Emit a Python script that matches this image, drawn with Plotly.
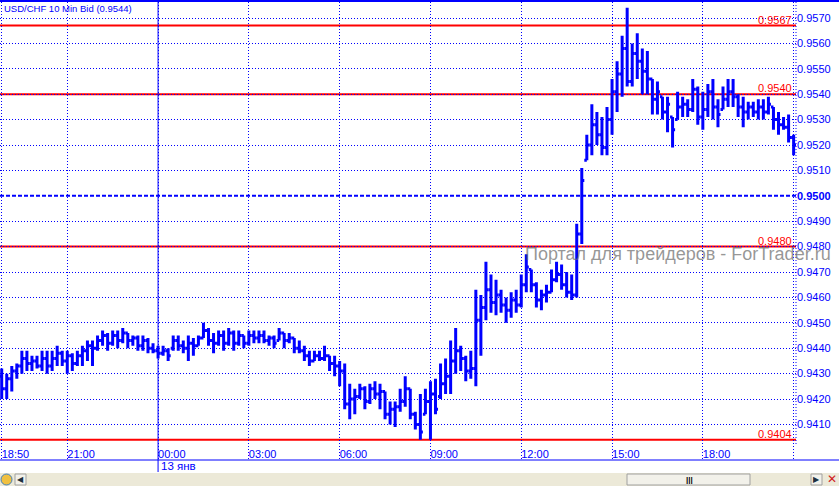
import pandas as pd
import plotly.graph_objects as go

# ---------------- data ----------------
start_time = "2012-01-12 18:50"
n_bars = 158
bar_minutes = 10

high = [0.9432, 0.9430, 0.9433, 0.9434, 0.9439, 0.9439, 0.9437, 0.9437, 0.9439, 0.9439,
        0.9439, 0.9441, 0.9439, 0.9439, 0.9438, 0.9439, 0.9441, 0.9443, 0.9443, 0.9445,
        0.9447, 0.9446, 0.9447, 0.9447, 0.9448, 0.9446, 0.9445, 0.9445, 0.9445, 0.9444,
        0.9442, 0.9441, 0.9441, 0.9440, 0.9445, 0.9445, 0.9443, 0.9445, 0.9444, 0.9445,
        0.9450, 0.9448, 0.9446, 0.9447, 0.9447, 0.9448, 0.9447, 0.9447, 0.9445, 0.9447,
        0.9447, 0.9447, 0.9447, 0.9445, 0.9445, 0.9448, 0.9446, 0.9446, 0.9444, 0.9443,
        0.9441, 0.9439, 0.9439, 0.9439, 0.9441, 0.9437, 0.9437, 0.9435, 0.9434, 0.9426,
        0.9424, 0.9426, 0.9425, 0.9426, 0.9427, 0.9426, 0.9423, 0.9419, 0.9419, 0.9424,
        0.9429, 0.9424, 0.9415, 0.9422, 0.9424, 0.9427, 0.9428, 0.9434, 0.9436, 0.9443,
        0.9448, 0.9441, 0.9437, 0.9439, 0.9463, 0.9461, 0.9474, 0.9469, 0.9467, 0.9463,
        0.9460, 0.9462, 0.9463, 0.9469, 0.9477, 0.9471, 0.9466, 0.9463, 0.9465, 0.9471,
        0.9474, 0.9473, 0.9470, 0.9469, 0.9489, 0.9511, 0.9524, 0.9536, 0.9533, 0.9531,
        0.9535, 0.9546, 0.9553, 0.9563, 0.9574, 0.9560, 0.9564, 0.9558, 0.9557, 0.9546,
        0.9545, 0.9539, 0.9539, 0.9531, 0.9541, 0.9539, 0.9538, 0.9546, 0.9543, 0.9541,
        0.9544, 0.9546, 0.9538, 0.9543, 0.9546, 0.9546, 0.9540, 0.9539, 0.9537, 0.9537,
        0.9538, 0.9538, 0.9539, 0.9535, 0.9533, 0.9531, 0.9532, 0.9524]

low = [0.9420, 0.9420, 0.9423, 0.9428, 0.9430, 0.9431, 0.9431, 0.9432, 0.9431, 0.9430,
       0.9431, 0.9433, 0.9433, 0.9430, 0.9431, 0.9433, 0.9433, 0.9435, 0.9433, 0.9439,
       0.9441, 0.9439, 0.9441, 0.9440, 0.9442, 0.9440, 0.9441, 0.9439, 0.9439, 0.9438,
       0.9438, 0.9436, 0.9437, 0.9435, 0.9439, 0.9439, 0.9438, 0.9435, 0.9437, 0.9441,
       0.9444, 0.9441, 0.9438, 0.9441, 0.9439, 0.9441, 0.9439, 0.9441, 0.9440, 0.9441,
       0.9442, 0.9442, 0.9442, 0.9441, 0.9440, 0.9443, 0.9440, 0.9442, 0.9438, 0.9438,
       0.9435, 0.9433, 0.9435, 0.9435, 0.9435, 0.9431, 0.9429, 0.9425, 0.9416, 0.9412,
       0.9414, 0.9420, 0.9416, 0.9418, 0.9420, 0.9416, 0.9412, 0.9410, 0.9409, 0.9415,
       0.9417, 0.9412, 0.9408, 0.9404, 0.9414, 0.9404, 0.9414, 0.9420, 0.9422, 0.9422,
       0.9430, 0.9431, 0.9427, 0.9428, 0.9425, 0.9437, 0.9451, 0.9454, 0.9453, 0.9454,
       0.9450, 0.9452, 0.9454, 0.9456, 0.9462, 0.9462, 0.9456, 0.9455, 0.9458, 0.9462,
       0.9466, 0.9463, 0.9460, 0.9459, 0.9460, 0.9481, 0.9514, 0.9516, 0.9520, 0.9516,
       0.9516, 0.9524, 0.9533, 0.9539, 0.9543, 0.9543, 0.9546, 0.9540, 0.9540, 0.9532,
       0.9532, 0.9530, 0.9525, 0.9519, 0.9530, 0.9531, 0.9531, 0.9533, 0.9528, 0.9526,
       0.9531, 0.9530, 0.9527, 0.9534, 0.9535, 0.9535, 0.9531, 0.9527, 0.9530, 0.9531,
       0.9530, 0.9530, 0.9532, 0.9526, 0.9524, 0.9526, 0.9521, 0.9516]

open_ = [0.9429, 0.9424, 0.9428, 0.9431, 0.9433, 0.9436, 0.9434, 0.9435, 0.9433, 0.9436,
         0.9433, 0.9436, 0.9438, 0.9435, 0.9437, 0.9434, 0.9437, 0.9439, 0.9441, 0.9440,
         0.9443, 0.9445, 0.9442, 0.9445, 0.9443, 0.9446, 0.9443, 0.9444, 0.9441, 0.9443,
         0.9440, 0.9439, 0.9438, 0.9439, 0.9440, 0.9443, 0.9441, 0.9440, 0.9442, 0.9441,
         0.9444, 0.9447, 0.9443, 0.9442, 0.9445, 0.9442, 0.9446, 0.9442, 0.9445, 0.9442,
         0.9445, 0.9444, 0.9445, 0.9443, 0.9444, 0.9443, 0.9446, 0.9443, 0.9444, 0.9440,
         0.9439, 0.9437, 0.9435, 0.9437, 0.9436, 0.9437, 0.9434, 0.9433, 0.9431, 0.9418,
         0.9420, 0.9421, 0.9424, 0.9419, 0.9424, 0.9422, 0.9423, 0.9414, 0.9416, 0.9417,
         0.9419, 0.9424, 0.9414, 0.9410, 0.9414, 0.9419, 0.9422, 0.9421, 0.9426, 0.9429,
         0.9435, 0.9439, 0.9436, 0.9431, 0.9432, 0.9451, 0.9456, 0.9463, 0.9458, 0.9461,
         0.9457, 0.9455, 0.9459, 0.9457, 0.9465, 0.9471, 0.9465, 0.9459, 0.9461, 0.9462,
         0.9467, 0.9469, 0.9465, 0.9462, 0.9461, 0.9485, 0.9514, 0.9520, 0.9528, 0.9524,
         0.9519, 0.9530, 0.9541, 0.9548, 0.9558, 0.9545, 0.9556, 0.9553, 0.9549, 0.9546,
         0.9538, 0.9539, 0.9533, 0.9531, 0.9530, 0.9535, 0.9536, 0.9534, 0.9542, 0.9531,
         0.9534, 0.9541, 0.9535, 0.9534, 0.9538, 0.9541, 0.9539, 0.9535, 0.9533, 0.9535,
         0.9533, 0.9535, 0.9533, 0.9535, 0.9530, 0.9528, 0.9527, 0.9523]

close = [0.9424, 0.9428, 0.9431, 0.9433, 0.9436, 0.9434, 0.9435, 0.9433, 0.9436, 0.9433,
         0.9436, 0.9438, 0.9435, 0.9437, 0.9434, 0.9437, 0.9439, 0.9441, 0.9440, 0.9443,
         0.9445, 0.9442, 0.9445, 0.9443, 0.9446, 0.9443, 0.9444, 0.9441, 0.9443, 0.9440,
         0.9439, 0.9438, 0.9439, 0.9437, 0.9443, 0.9441, 0.9440, 0.9442, 0.9441, 0.9444,
         0.9447, 0.9443, 0.9442, 0.9445, 0.9442, 0.9446, 0.9442, 0.9445, 0.9442, 0.9445,
         0.9444, 0.9445, 0.9443, 0.9444, 0.9442, 0.9446, 0.9443, 0.9444, 0.9440, 0.9439,
         0.9437, 0.9435, 0.9437, 0.9436, 0.9437, 0.9434, 0.9433, 0.9431, 0.9418, 0.9420,
         0.9421, 0.9424, 0.9419, 0.9424, 0.9422, 0.9423, 0.9414, 0.9416, 0.9417, 0.9419,
         0.9424, 0.9414, 0.9410, 0.9407, 0.9419, 0.9422, 0.9416, 0.9426, 0.9429, 0.9435,
         0.9439, 0.9436, 0.9431, 0.9432, 0.9451, 0.9456, 0.9463, 0.9458, 0.9461, 0.9457,
         0.9455, 0.9459, 0.9457, 0.9465, 0.9472, 0.9465, 0.9459, 0.9461, 0.9462, 0.9467,
         0.9469, 0.9465, 0.9462, 0.9461, 0.9485, 0.9506, 0.9520, 0.9528, 0.9524, 0.9519,
         0.9530, 0.9541, 0.9548, 0.9558, 0.9545, 0.9556, 0.9553, 0.9549, 0.9546, 0.9538,
         0.9541, 0.9533, 0.9536, 0.9526, 0.9535, 0.9536, 0.9534, 0.9542, 0.9531, 0.9534,
         0.9541, 0.9535, 0.9532, 0.9538, 0.9541, 0.9539, 0.9535, 0.9533, 0.9535, 0.9533,
         0.9535, 0.9533, 0.9536, 0.9530, 0.9528, 0.9527, 0.9523, 0.9520]

price_ticks = [0.9410, 0.9420, 0.9430, 0.9440, 0.9450, 0.9460, 0.9470, 0.9480, 0.9490,
               0.9500, 0.9510, 0.9520, 0.9530, 0.9540, 0.9550, 0.9560, 0.9570]
price_tick_labels = ["0.9410", "0.9420", "0.9430", "0.9440", "0.9450", "0.9460", "0.9470",
                     "0.9480", "0.9490", "<b>0.9500</b>", "0.9510", "0.9520", "0.9530",
                     "0.9540", "0.9550", "0.9560", "0.9570"]

time_ticks = ["2012-01-12 18:50", "2012-01-12 21:00", "2012-01-13 00:00", "2012-01-13 03:00",
              "2012-01-13 06:00", "2012-01-13 09:00", "2012-01-13 12:00", "2012-01-13 15:00",
              "2012-01-13 18:00", "2012-01-13 21:00"]
time_tick_labels = ["18:50", "21:00", "00:00", "03:00", "06:00", "09:00", "12:00", "15:00",
                    "18:00", ""]
day_break = "2012-01-13 00:00"
day_label = "13 янв"

red_levels = [0.9567, 0.9540, 0.9480, 0.9404]
red_level_labels = ["0.9567", "0.9540", "0.9480", "0.9404"]
round_level = 0.9500

title_text = "USD/CHF 10 Min Bid (0.9544)"
watermark = "Портал для трейдеров - ForTrader.ru"

x_range = ["2012-01-12 18:46:38", "2012-01-13 21:04:42"]
y_range = [0.93960, 0.95763]

# ---------------- figure ----------------
BLUE = "#0000FF"
RED = "#FF0000"
FONT = "Liberation Sans, Arial, sans-serif"

times = pd.date_range(start_time, periods=n_bars, freq=f"{bar_minutes}min")

fig = go.Figure()
fig.add_trace(go.Ohlc(
    x=times, open=open_, high=high, low=low, close=close,
    increasing=dict(line=dict(color=BLUE, width=3)),
    decreasing=dict(line=dict(color=BLUE, width=3)),
    tickwidth=0.5, hoverinfo="skip", showlegend=False,
))

W, H = 839, 486
ml, mr, mt, mb = 0, 43, 2, 26
pw, ph = W - ml - mr, H - mt - mb  # 796 x 458

def py(px_from_plot_bottom):
    return px_from_plot_bottom / ph

shapes = []
# round level dashed line
shapes.append(dict(type="line", xref="paper", x0=0, x1=1, yref="y", y0=round_level, y1=round_level,
                   line=dict(color=BLUE, width=2, dash="4px,2px"), layer="below"))
# red levels
for lv in red_levels:
    shapes.append(dict(type="line", xref="paper", x0=0, x1=1, yref="y", y0=lv, y1=lv,
                       line=dict(color=RED, width=2), layer="below"))
# right dotted border of plot area
shapes.append(dict(type="line", xref="paper", x0=1, x1=1, yref="paper", y0=py(16), y1=1,
                   line=dict(color=BLUE, width=1, dash="1px,2px")))
# top blue border
shapes.append(dict(type="rect", xref="paper", x0=0, x1=W / pw, yref="paper", y0=1, y1=1 + 2 / ph,
                   fillcolor=BLUE, line=dict(width=0)))
# bottom blue line
shapes.append(dict(type="line", xref="paper", x0=0, x1=W / pw, yref="paper", y0=0, y1=0,
                   line=dict(color=BLUE, width=1)))
# day separator
shapes.append(dict(type="line", xref="x", x0=day_break, x1=day_break, yref="paper",
                   y0=-12 / ph, y1=1, line=dict(color=BLUE, width=1)))
# scrollbar background
shapes.append(dict(type="rect", xref="paper", x0=0, x1=W / pw, yref="paper",
                   y0=-26 / ph, y1=-13 / ph, fillcolor="#ECE9D8", line=dict(width=0)))
# scroll thumb
shapes.append(dict(type="rect", xref="paper", x0=627 / pw, x1=750 / pw, yref="paper",
                   y0=-25 / ph, y1=-14 / ph, fillcolor="#F2F1EA",
                   line=dict(color="#A0A0A0", width=1)))
# left / right buttons
for bx in (15, 811):
    shapes.append(dict(type="rect", xref="paper", x0=bx / pw, x1=(bx + 11) / pw, yref="paper",
                       y0=-25 / ph, y1=-14 / ph, fillcolor="#F2F1EA",
                       line=dict(color="#A0A0A0", width=1)))
# globe icon
shapes.append(dict(type="circle", xref="paper", x0=1 / pw, x1=12 / pw, yref="paper",
                   y0=-25 / ph, y1=-14 / ph, fillcolor="#F0C040",
                   line=dict(color="#4080C0", width=1)))

annotations = []
for lv, txt in zip(red_levels, red_level_labels):
    annotations.append(dict(xref="paper", x=1, xanchor="right", xshift=-2, yref="y", y=lv,
                            yanchor="bottom", yshift=-2, text=txt, showarrow=False,
                            font=dict(family=FONT, size=11, color=RED)))
annotations.append(dict(xref="paper", x=2 / pw, xanchor="left", yref="paper", y=1 - 6 / ph,
                        yanchor="middle", text=title_text, showarrow=False,
                        font=dict(family=FONT, size=9.5, color=BLUE)))
annotations.append(dict(xref="x", x=day_break, xanchor="left", xshift=1, yref="paper",
                        y=-6 / ph, yanchor="middle", text=day_label, showarrow=False,
                        font=dict(family=FONT, size=11.5, color=BLUE)))
annotations.append(dict(xref="paper", x=523 / pw, xanchor="left", yref="paper",
                        y=(460 - 254) / ph, yanchor="middle", text=watermark, showarrow=False,
                        font=dict(family=FONT, size=18, color="rgba(105,105,105,0.7)")))
annotations.append(dict(xref="paper", x=689 / pw, xanchor="center", yref="paper",
                        y=-19.5 / ph, yanchor="middle", text="<b>|||</b>", showarrow=False,
                        font=dict(family=FONT, size=8, color="#000000")))
annotations.append(dict(xref="paper", x=20.5 / pw, xanchor="center", yref="paper",
                        y=-19.5 / ph, yanchor="middle", text="◀", showarrow=False,
                        font=dict(family="DejaVu Sans", size=8, color="#203040")))
annotations.append(dict(xref="paper", x=816.5 / pw, xanchor="center", yref="paper",
                        y=-19.5 / ph, yanchor="middle", text="▶", showarrow=False,
                        font=dict(family="DejaVu Sans", size=8, color="#203040")))
annotations.append(dict(xref="paper", x=832 / pw, xanchor="center", yref="paper",
                        y=-19.5 / ph, yanchor="middle", text="<b>✕</b>", showarrow=False,
                        font=dict(family="DejaVu Sans", size=12, color="#D02020")))

fig.update_layout(
    width=W, height=H,
    margin=dict(l=ml, r=mr, t=mt, b=mb, pad=0),
    paper_bgcolor="white", plot_bgcolor="white",
    showlegend=False,
    shapes=shapes, annotations=annotations,
    xaxis=dict(
        type="date", range=x_range, rangeslider=dict(visible=False),
        tickmode="array", tickvals=time_ticks, ticktext=time_tick_labels,
        showgrid=True, gridcolor=BLUE, gridwidth=1, griddash="1px,2px",
        zeroline=False, showline=False, ticks="",
        ticklabelposition="inside right", ticklabelstandoff=-6,
        tickfont=dict(family=FONT, size=11, color=BLUE),
    ),
    yaxis=dict(
        range=y_range, side="right",
        tickmode="array", tickvals=price_ticks, ticktext=price_tick_labels,
        showgrid=True, gridcolor=BLUE, gridwidth=1, griddash="1px,2px",
        zeroline=False, showline=False, ticks="",
        tickfont=dict(family=FONT, size=11, color=BLUE),
    ),
)

fig.write_html(
    "out.html",
    config={"displayModeBar": False},
    post_script="document.body.style.margin='0px';document.body.style.overflow='hidden';",
)
